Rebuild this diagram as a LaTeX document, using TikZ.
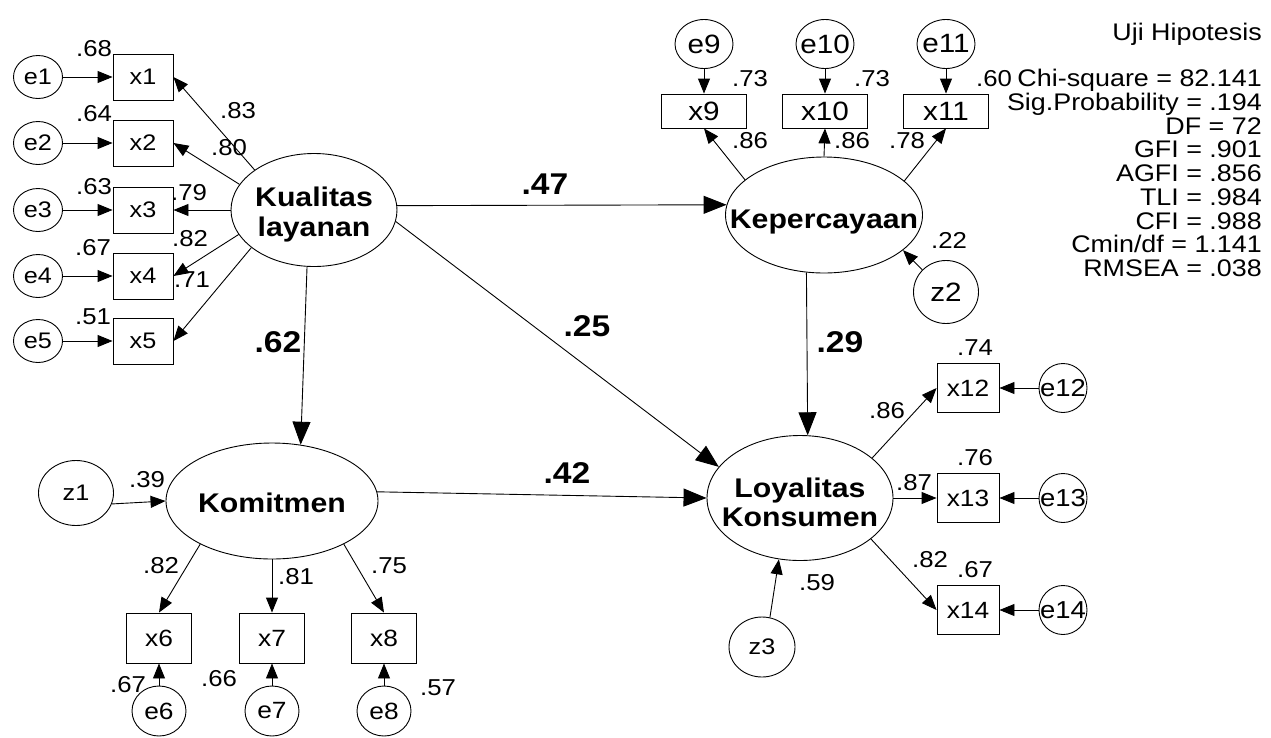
\documentclass[tikz,border=0pt]{standalone}
\usepackage{fontspec}
\setmainfont{Liberation Sans}[FakeStretch=1.12]
\usetikzlibrary{shapes.geometric,arrows.meta}
\newcommand\setfs[1]{\fontsize{#1pt}{#1pt}\selectfont}
\newcommand\nowd[1]{\makebox[0pt]{#1}}

\tikzset{
  sz/.style 2 args={minimum width=#1pt, minimum height=#2pt},
  obs/.style={draw, rectangle, inner sep=0pt, line width=0.9pt, font=\setfs{22.5}},
  err/.style={draw, ellipse, inner sep=0pt, line width=0.9pt, font=\setfs{22.5}},
  lat/.style={draw, ellipse, inner sep=0pt, line width=0.9pt},
  lattext/.style={inner sep=0pt, align=center, font=\bfseries\fontsize{27pt}{29.5pt}\selectfont},
  lbl/.style={inner sep=0pt, font=\setfs{23}},
  coef/.style={inner sep=0pt, font=\bfseries\setfs{30}},
  arr/.style={-{Triangle[length=15pt,width=12pt]}, line width=0.9pt},
  bigarr/.style={-{Triangle[length=23pt,width=18pt]}, line width=0.9pt},
  stat/.style={inner sep=0pt, anchor=base east, font=\setfs{24}},
}

\begin{document}
\begin{tikzpicture}[x=1pt,y=-1pt]
\useasboundingbox (0,0) rectangle (1271,737);

% ---- Kualitas layanan and its indicators x1..x5
\foreach \i/\y in {1/77,2/143,3/210,4/276,5/341}{
  \node[err, sz={49}{43}] (e\i) at (38,\y) {e\i};
  \node[obs, sz={60}{46}] (x\i) at (143,\y) {x\i};
  \draw[arr] (e\i) -- (x\i);
}
\node[lat, sz={166}{113}] (kual) at (314,210) {};
\node[lattext, yshift=-4.7pt] (kualt) at (kual) {Kualitas\\layanan};
\draw[arr] (kual.146) -- (x1.east);
\draw[arr] (kual.161) -- (x2.east);
\draw[arr] (kual.west) -- (x3.east);
\draw[arr] (kual.198) -- (x4.east);
\draw[arr] (kual.211) -- (x5.east);

% ---- Komitmen and its indicators x6..x8
\node[err, sz={75}{65}] (z1) at (76,493) {z1};
\node[lat, sz={212}{116}] (kom) at (272,501) {};
\node[lattext, yshift=-2.3pt] (komt) at (kom) {Komitmen};
\draw[arr] (z1.343) -- (kom.west);
\foreach \i/\x in {6/159,7/272,8/384}{
  \node[obs, sz={65}{50}, font=\setfs{23.5}] (x\i) at (\x,638) {x\i};
  \node[err, sz={54}{50}, font=\setfs{23.5}] (e\i) at (\x,711) {e\i};
  \draw[arr] (e\i) -- (x\i);
}
\draw[arr] (kom.211) -- (x6.north);
\draw[arr] (kom.south) -- (x7.north);
\draw[arr] (kom.329) -- (x8.north);

% ---- Kepercayaan and its indicators x9..x11
\node[lat, sz={197}{116}] (kep) at (824,215) {};
\node[lattext, yshift=-6.7pt] (kept) at (kep) {Kepercayaan};
\foreach \i/\x in {9/704,10/825,11/946}{
  \node[obs, sz={85}{34}, font=\setfs{26.5}] (x\i) at (\x,111) {x\i};
  \node[err, sz={58}{49}, font=\setfs{26.5}] (e\i) at (\x,44) {\nowd{e\i}};
  \draw[arr] (e\i) -- (x\i);
}
\draw[arr] (kep.156) -- (x9.south);
\draw[arr] (kep.north) -- (x10.south);
\draw[arr] (kep.23) -- (x11.south);
\node[err, sz={65}{63}, font=\setfs{26.5}] (z2) at (946,292) {z2};
\draw[arr] (z2.137) -- (kep.336);

% ---- Loyalitas Konsumen and its indicators x12..x14
\node[lat, sz={186}{125}] (loy) at (800,498) {};
\node[lattext, yshift=-4.5pt] (loyt) at (loy) {Loyalitas\\Konsumen};
\foreach \i/\y in {12/388,13/498,14/610}{
  \node[obs, sz={62}{49}, font=\setfs{23.5}] (x\i) at (968,\y) {x\i};
  \node[err, sz={48}{49}, font=\setfs{24.5}] (e\i) at (1063,\y) {\nowd{e\i}};
  \draw[arr] (e\i) -- (x\i);
}
\draw[arr] (loy.29) -- (x12.west);
\draw[arr] (loy.east) -- (x13.west);
\draw[arr] (loy.330) -- (x14.west);
\node[err, sz={66}{60}] (z3) at (762,647) {z3};
\draw[arr] (z3.75) -- (loy.251);

% ---- structural paths
\draw[bigarr] (kual.3) -- (kep.174);
\draw[bigarr] (kual.263) -- (kom.63);
\draw[bigarr] (kual.352) -- (loy.159);
\draw[bigarr] (kom.5) -- (loy.west);
\draw[bigarr] (kep.253) -- (loy.83);

\foreach \t/\x/\y [count=\n] in {.47/545/184, .25/587/326, .42/567/473, .29/840/342, .62/278/342}
  \node[coef] (c\n) at (\x,\y) {\t};

% ---- loadings and squared multiple correlations
\foreach \t/\x/\y [count=\n] in {
  .68/94/49, .64/94/114, .63/94/187, .67/93/248, .51/93/317,
  .83/238/111, .80/229/148, .79/189/193, .82/190/239, .71/192/280,
  .39/147/480, .82/161/566, .81/296/577, .75/389/566,
  .67/128/685, .66/219/679, .57/438/688,
  .73/750/79, .73/872/79, .86/750/141, .86/852/141, .78/907/141, .22/949/240,
  .86/887/411, .87/914/483, .82/930/560, .74/975/348, .76/975/458, .67/975/570,
  .59/817/583}
  \node[lbl] (l\n) at (\x,\y) {\t};
\node[lbl, anchor=base west] (l60) at (976,86.5) {.60};

% ---- fit statistics
\node[stat] (uji) at (1262,40) {Uji Hipotesis};
\foreach \t [count=\k from 0] in {Chi-square = 82.141, Sig.Probability = .194, DF = 72,
  GFI = .901, AGFI = .856, TLI = .984, CFI = .988, Cmin/df = 1.141, RMSEA = .038}
  \node[stat] (s\k) at (1262,86.5+23.75*\k) {\t};
\end{tikzpicture}
\end{document}
